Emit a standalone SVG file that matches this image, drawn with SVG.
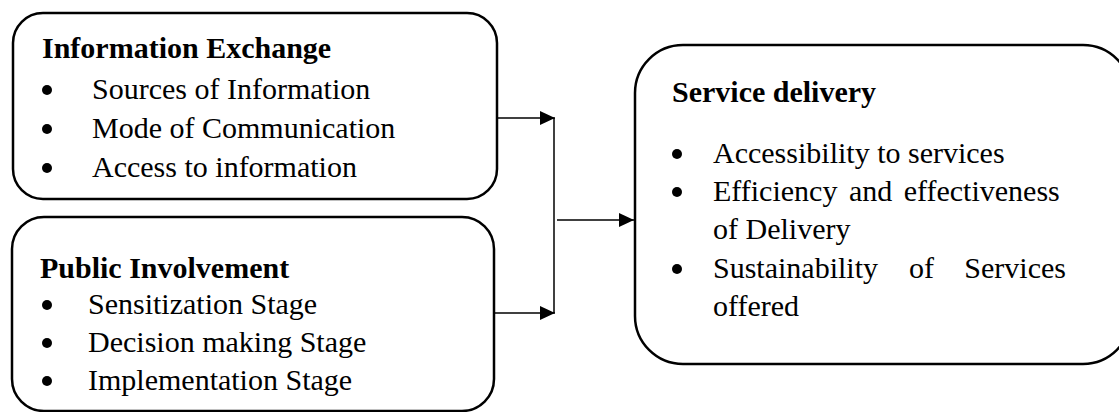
<svg xmlns="http://www.w3.org/2000/svg" width="1119" height="412" viewBox="0 0 1119 412">
<style>
.box{fill:#fff;stroke:#000;stroke-width:2.5}
.t{font-family:"Liberation Serif","Times New Roman",serif;font-size:30px;fill:#000}
.b{font-weight:bold}
.dot{fill:#000}
.ln{stroke:#000;stroke-width:1.5;fill:none}
</style>
<defs>
<marker id="ah" markerWidth="16" markerHeight="14" refX="15" refY="7" orient="auto" markerUnits="userSpaceOnUse">
<path d="M0,0 L15,7 L0,14 Z" fill="#000"/>
</marker>
</defs>
<rect width="1119" height="412" fill="#fff"/>
<g id="info-exchange">
<rect class="box" x="13" y="13" width="484" height="186" rx="30" ry="30"/>
<text class="t b" x="42" y="58">Information Exchange</text>
<circle class="dot" cx="47" cy="90" r="5"/>
<text class="t" x="92" y="99">Sources of Information</text>
<circle class="dot" cx="47" cy="129" r="5"/>
<text class="t" x="92" y="138">Mode of Communication</text>
<circle class="dot" cx="47" cy="168" r="5"/>
<text class="t" x="92" y="177">Access to information</text>
</g>
<g id="public-involvement">
<rect class="box" x="12" y="217" width="482" height="194" rx="32" ry="32"/>
<text class="t b" x="40" y="278">Public Involvement</text>
<circle class="dot" cx="47" cy="305" r="5"/>
<text class="t" x="88" y="314">Sensitization Stage</text>
<circle class="dot" cx="47" cy="343" r="5"/>
<text class="t" x="88" y="352">Decision making Stage</text>
<circle class="dot" cx="47" cy="381" r="5"/>
<text class="t" x="88" y="390">Implementation Stage</text>
</g>
<g id="service-delivery">
<rect class="box" x="635" y="45" width="496" height="319" rx="48" ry="48"/>
<text class="t b" x="672" y="102">Service delivery</text>
<circle class="dot" cx="677" cy="154" r="5"/>
<text class="t" x="713" y="163">Accessibility to services</text>
<circle class="dot" cx="677" cy="192" r="5"/>
<text class="t" x="713" y="201" word-spacing="4">Efficiency and effectiveness</text>
<text class="t" x="713" y="239">of Delivery</text>
<circle class="dot" cx="677" cy="269" r="5"/>
<text class="t" x="713" y="278">Sustainability</text>
<text class="t" x="909" y="278">of</text>
<text class="t" x="1066" y="278" text-anchor="end">Services</text>
<text class="t" x="713" y="316">offered</text>
</g>
<g id="connectors">
<line class="ln" x1="497" y1="118" x2="555" y2="118" marker-end="url(#ah)"/>
<line class="ln" x1="494" y1="313" x2="555" y2="313" marker-end="url(#ah)"/>
<line class="ln" x1="554" y1="118" x2="554" y2="313"/>
<line class="ln" x1="557" y1="220" x2="634" y2="220" marker-end="url(#ah)"/>
</g>
</svg>
